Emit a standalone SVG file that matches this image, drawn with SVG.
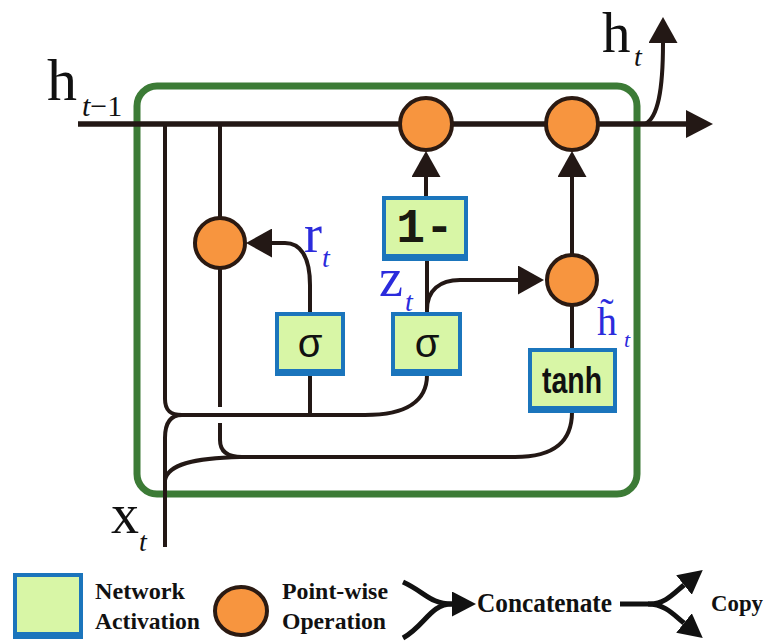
<svg xmlns="http://www.w3.org/2000/svg" width="771" height="643" viewBox="0 0 771 643">
<style>
.ln{fill:none;stroke:#231815;stroke-width:4;stroke-linecap:butt}
.main{stroke-width:5.5}
.op{fill:#f7953f;stroke:#2b1a12;stroke-width:4}
.bb{fill:#1b75bc}
.bg{fill:#d8f6a6}
.serif{font-family:"Liberation Serif","Times New Roman",serif}
.blue{fill:#2b2bdc}
.leg{font-family:"Liberation Serif","Times New Roman",serif;font-weight:bold;fill:#111}
</style>
<defs>
<marker id="ah" viewBox="0 0 10 10" refX="0" refY="5" markerUnits="userSpaceOnUse" markerWidth="26" markerHeight="29" orient="auto" preserveAspectRatio="none">
<path d="M0,0 L10,5 L0,10 z" fill="#231815"/>
</marker>
<marker id="ahm" viewBox="0 0 10 10" refX="0" refY="5" markerUnits="userSpaceOnUse" markerWidth="27" markerHeight="28" orient="auto" preserveAspectRatio="none">
<path d="M0,0 L10,5 L0,10 z" fill="#231815"/>
</marker>
<marker id="ahs" viewBox="0 0 10 10" refX="0" refY="5" markerUnits="userSpaceOnUse" markerWidth="24" markerHeight="25" orient="auto" preserveAspectRatio="none">
<path d="M0,0 L10,5 L0,10 z" fill="#111"/>
</marker>
</defs>

<g id="cell">
<rect x="137" y="86" width="500" height="408" rx="20" ry="20" fill="none" stroke="#3c7b36" stroke-width="7"/>
</g>

<g id="connectors">
<path class="ln main" d="M78 124 H686" marker-end="url(#ahm)"/>
<path class="ln" d="M165 124 V399 C165 410 170 415 182 415 H365 C408 415 427 400 427 375"/>
<path class="ln" d="M165 547 V438 C165 424 170 415 182 415"/>
<path class="ln" d="M165 480 C168 465 192 458 240 457 H515 C556 457 572 440 572 412"/>
<path class="ln" d="M220 124 V218"/>
<path class="ln" d="M220 268 V407"/>
<path class="ln" d="M220 423 V440 C220 452 228 457 242 457"/>
<path class="ln" d="M310 375 V415"/>
<path class="ln" d="M310 312 V285 C310 256 300 243 285 243 H272" marker-end="url(#ah)"/>
<path class="ln" d="M427 312 V260"/>
<path class="ln" d="M427 310 C427 290 440 280 460 280 H518" marker-end="url(#ah)"/>
<path class="ln" d="M426 196 V177" marker-end="url(#ah)"/>
<path class="ln" d="M572 255 V177" marker-end="url(#ah)"/>
<path class="ln" d="M572 348 V305"/>
<path class="ln" d="M645 124 C658 118 663 90 663 43" marker-end="url(#ah)"/>
</g>

<g id="op-reset">
<circle class="op" cx="220" cy="243" r="25"/>
</g>
<g id="op-forget">
<circle class="op" cx="426" cy="124" r="26"/>
</g>
<g id="op-update">
<circle class="op" cx="572" cy="124" r="26"/>
</g>
<g id="op-candidate">
<circle class="op" cx="572" cy="280" r="25"/>
</g>

<g id="sigma-r">
<rect class="bb" x="275" y="312" width="70" height="64"/>
<rect class="bg" x="279" y="316" width="62" height="53"/>
<text x="310" y="357" text-anchor="middle" font-family="Liberation Sans, Arial, sans-serif" font-size="40" fill="#111">σ</text>
</g>
<g id="sigma-z">
<rect class="bb" x="391" y="312" width="71" height="64"/>
<rect class="bg" x="395" y="316" width="63" height="53"/>
<text x="427" y="357" text-anchor="middle" font-family="Liberation Sans, Arial, sans-serif" font-size="40" fill="#111">σ</text>
</g>
<g id="one-minus">
<rect class="bb" x="382" y="196" width="86" height="65"/>
<rect class="bg" x="386" y="200" width="78" height="54"/>
<text x="425" y="242" text-anchor="middle" font-family="Liberation Mono, Courier New, monospace" font-weight="bold" font-size="48" fill="#1a1a10">1-</text>
</g>
<g id="tanh">
<rect class="bb" x="528" y="348" width="89" height="65"/>
<rect class="bg" x="532" y="352" width="81" height="54"/>
<text x="542" y="393" textLength="60" lengthAdjust="spacingAndGlyphs" font-family="Liberation Sans, Arial, sans-serif" font-weight="bold" font-size="36" fill="#111">tanh</text>
</g>

<g id="labels">
<text class="serif" x="47" y="100" font-size="60" fill="#111">h<tspan x="82" y="116" font-size="30"><tspan font-style="italic">t</tspan>−1</tspan></text>
<text class="serif" x="602" y="52" font-size="57" fill="#111">h<tspan x="634" y="66" font-size="28" font-style="italic">t</tspan></text>
<text class="serif" x="111" y="533" font-size="56" fill="#111">x<tspan x="139" y="551" font-size="28" font-style="italic">t</tspan></text>
<text class="serif blue" x="304" y="252" font-size="54">r<tspan x="322" y="267" font-size="28" font-style="italic">t</tspan></text>
<text class="serif blue" x="379" y="296" font-size="54">z<tspan x="405" y="311" font-size="28" font-style="italic">t</tspan></text>
<text class="serif blue" x="597" y="335" font-size="40">h̃<tspan x="624" y="347" font-size="22" font-style="italic">t</tspan></text>
</g>

<g id="legend">
<rect class="bb" x="13" y="573" width="70" height="66"/>
<rect class="bg" x="17" y="577" width="62" height="55"/>
<text class="leg" x="95" y="599" font-size="23" textLength="90" lengthAdjust="spacingAndGlyphs">Network</text>
<text class="leg" x="95" y="629" font-size="23" textLength="105" lengthAdjust="spacingAndGlyphs">Activation</text>
<ellipse class="op" cx="241" cy="611" rx="26" ry="24"/>
<text class="leg" x="282" y="599" font-size="23" textLength="106" lengthAdjust="spacingAndGlyphs">Point-wise</text>
<text class="leg" x="282" y="629" font-size="23" textLength="104" lengthAdjust="spacingAndGlyphs">Operation</text>
<path d="M403 582 C425 592 430 604 452 604" fill="none" stroke="#111" stroke-width="5" marker-end="url(#ahs)"/>
<path d="M403 638 C425 626 430 604 452 604" fill="none" stroke="#111" stroke-width="5"/>
<text class="leg" x="477" y="612" font-size="27" textLength="135" lengthAdjust="spacingAndGlyphs">Concatenate</text>
<path d="M620 604 H650 C665 604 674 593 684 585" fill="none" stroke="#111" stroke-width="5" marker-end="url(#ahs)"/>
<path d="M648 604 C665 604 674 615 684 623" fill="none" stroke="#111" stroke-width="5" marker-end="url(#ahs)"/>
<text class="leg" x="711" y="611" font-size="24" textLength="52" lengthAdjust="spacingAndGlyphs">Copy</text>
</g>
</svg>
